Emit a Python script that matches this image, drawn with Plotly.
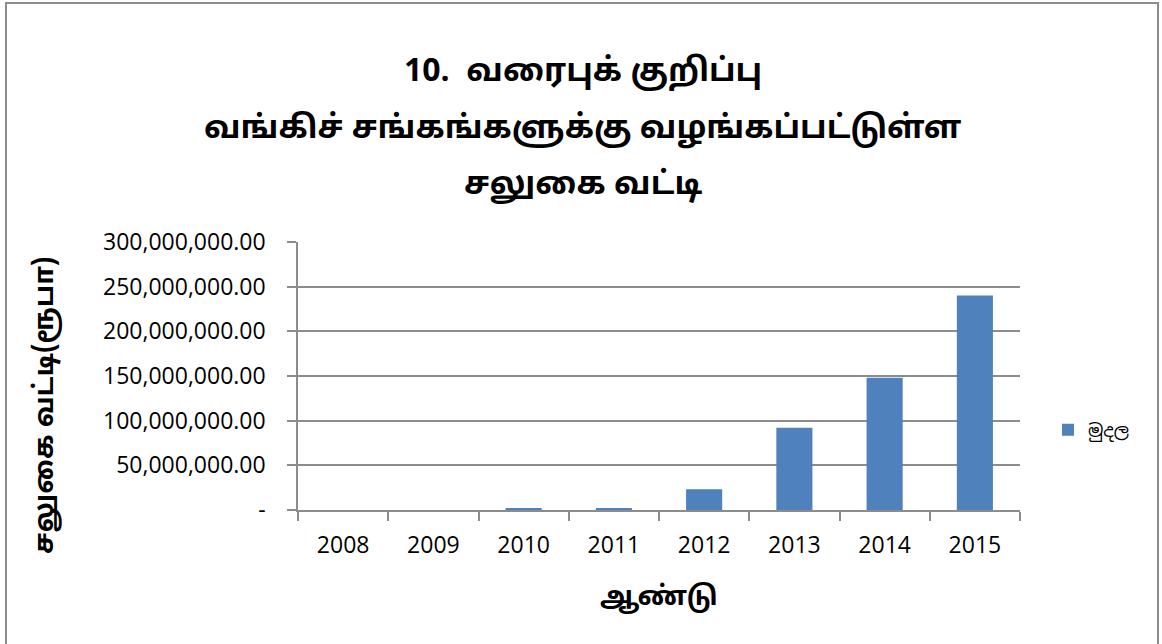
import plotly.graph_objects as go

years = ["2008", "2009", "2010", "2011", "2012", "2013", "2014", "2015"]
amounts = [0, 0, 2300000, 2000000, 23200000, 92000000, 148000000, 240000000]
series_name = "මුදල"
y_tickvals = [0, 50000000, 100000000, 150000000, 200000000, 250000000, 300000000]
y_ticktext = ["-", "50,000,000.00", "100,000,000.00", "150,000,000.00",
              "200,000,000.00", "250,000,000.00", "300,000,000.00"]
title_lines = ["10.  வரைபுக் குறிப்பு",
               "வங்கிச் சங்கங்களுக்கு வழங்கப்பட்டுள்ள",
               "சலுகை வட்டி"]
x_title = "ஆண்டு"
y_title = "சலுகை வட்டி(ரூபா)"

W, H = 1162, 644
L, R, T, B = 298, 142, 242, 134
pw, ph = W - L - R, H - T - B

def px(x):
    return (x - L) / pw

def py(y):
    return (H - B - y) / ph

tamil = "Noto Sans Tamil, Lohit Tamil, Noto Sans, DejaVu Sans, sans-serif"
tick_font = dict(family="Open Sans, Liberation Sans, sans-serif", size=23, color="#000000")

fig = go.Figure()
fig.add_trace(go.Bar(x=years, y=amounts, name=series_name,
                     marker=dict(color="#4F81BD", line=dict(width=0)),
                     showlegend=True))

annotations = []
for line, yy in zip(title_lines, [73, 130, 186]):
    annotations.append(dict(text="<b>" + line + "</b>", x=px(583), y=py(yy),
                            xref="paper", yref="paper", showarrow=False,
                            xanchor="center", yanchor="middle",
                            font=dict(family=tamil, size=32, color="#000000")))
annotations.append(dict(text="<b>" + x_title + "</b>", x=px(659), y=py(598),
                        xref="paper", yref="paper", showarrow=False,
                        xanchor="center", yanchor="middle",
                        font=dict(family=tamil, size=27, color="#000000")))
annotations.append(dict(text="<b>" + y_title + "</b>", x=px(46), y=py(406),
                        xref="paper", yref="paper", showarrow=False, textangle=-90,
                        xanchor="center", yanchor="middle",
                        font=dict(family=tamil, size=27, color="#000000")))

fig.update_layout(
    width=W, height=H,
    margin=dict(l=L, r=R, t=T, b=B, autoexpand=False),
    paper_bgcolor="white", plot_bgcolor="white",
    bargap=0.6,
    annotations=annotations,
    legend=dict(x=px(1048), y=py(430), xanchor="left", yanchor="middle",
                font=dict(family="Noto Sans Sinhala, Noto Sans, sans-serif", size=18, color="#000000"),
                bgcolor="rgba(0,0,0,0)", itemwidth=30),
    shapes=[dict(type="rect", xref="paper", yref="paper",
                 x0=px(6), x1=px(1158), y0=py(660), y1=py(3),
                 line=dict(color="#8c8c8c", width=2), fillcolor="rgba(0,0,0,0)",
                 layer="below")],
)
fig.update_xaxes(type="category", showgrid=False, showline=True, linecolor="#8c8c8c",
                 linewidth=1.5, ticks="outside", tickson="boundaries", ticklen=9,
                 tickcolor="#8c8c8c", tickwidth=1.5, tickfont=tick_font,
                 ticklabelstandoff=14)
fig.update_yaxes(range=[0, 300000000], tickvals=y_tickvals, ticktext=y_ticktext,
                 showgrid=True, gridcolor="#8c8c8c", gridwidth=1.5,
                 showline=True, linecolor="#8c8c8c", linewidth=1.5,
                 ticks="outside", ticklen=9, tickcolor="#8c8c8c", tickwidth=1.5,
                 tickfont=tick_font, ticklabelstandoff=17, zeroline=False)

fig.write_html("out.html", config={"displayModeBar": False},
               post_script="document.body.style.margin='0';document.body.style.overflow='hidden';")
